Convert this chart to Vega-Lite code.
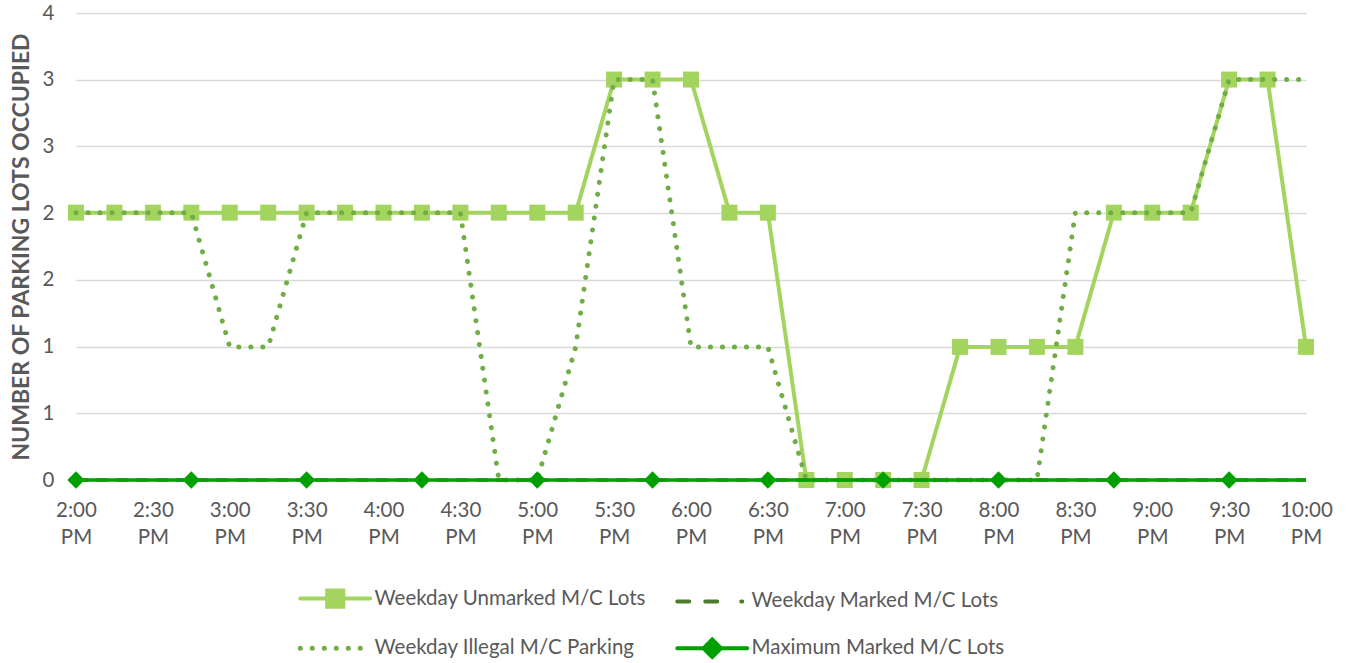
{
  "$schema": "https://vega.github.io/schema/vega-lite/v6.json",
  "width": 1230,
  "height": 467,
  "autosize": {"type": "none"},
  "padding": {"left": 76, "top": 13, "right": 44, "bottom": 183},
  "background": "white",
  "config": {
    "view": {"stroke": null},
    "font": "Lato",
    "text": {"font": "Lato"}
  },
  "data": {
    "values": [
      {"time": "2:00 PM", "series": "Weekday Unmarked M/C Lots", "value": 2.29},
      {"time": "2:15 PM", "series": "Weekday Unmarked M/C Lots", "value": 2.29},
      {"time": "2:30 PM", "series": "Weekday Unmarked M/C Lots", "value": 2.29},
      {"time": "2:45 PM", "series": "Weekday Unmarked M/C Lots", "value": 2.29},
      {"time": "3:00 PM", "series": "Weekday Unmarked M/C Lots", "value": 2.29},
      {"time": "3:15 PM", "series": "Weekday Unmarked M/C Lots", "value": 2.29},
      {"time": "3:30 PM", "series": "Weekday Unmarked M/C Lots", "value": 2.29},
      {"time": "3:45 PM", "series": "Weekday Unmarked M/C Lots", "value": 2.29},
      {"time": "4:00 PM", "series": "Weekday Unmarked M/C Lots", "value": 2.29},
      {"time": "4:15 PM", "series": "Weekday Unmarked M/C Lots", "value": 2.29},
      {"time": "4:30 PM", "series": "Weekday Unmarked M/C Lots", "value": 2.29},
      {"time": "4:45 PM", "series": "Weekday Unmarked M/C Lots", "value": 2.29},
      {"time": "5:00 PM", "series": "Weekday Unmarked M/C Lots", "value": 2.29},
      {"time": "5:15 PM", "series": "Weekday Unmarked M/C Lots", "value": 2.29},
      {"time": "5:30 PM", "series": "Weekday Unmarked M/C Lots", "value": 3.43},
      {"time": "5:45 PM", "series": "Weekday Unmarked M/C Lots", "value": 3.43},
      {"time": "6:00 PM", "series": "Weekday Unmarked M/C Lots", "value": 3.43},
      {"time": "6:15 PM", "series": "Weekday Unmarked M/C Lots", "value": 2.29},
      {"time": "6:30 PM", "series": "Weekday Unmarked M/C Lots", "value": 2.29},
      {"time": "6:45 PM", "series": "Weekday Unmarked M/C Lots", "value": 0},
      {"time": "7:00 PM", "series": "Weekday Unmarked M/C Lots", "value": 0},
      {"time": "7:15 PM", "series": "Weekday Unmarked M/C Lots", "value": 0},
      {"time": "7:30 PM", "series": "Weekday Unmarked M/C Lots", "value": 0},
      {"time": "7:45 PM", "series": "Weekday Unmarked M/C Lots", "value": 1.14},
      {"time": "8:00 PM", "series": "Weekday Unmarked M/C Lots", "value": 1.14},
      {"time": "8:15 PM", "series": "Weekday Unmarked M/C Lots", "value": 1.14},
      {"time": "8:30 PM", "series": "Weekday Unmarked M/C Lots", "value": 1.14},
      {"time": "8:45 PM", "series": "Weekday Unmarked M/C Lots", "value": 2.29},
      {"time": "9:00 PM", "series": "Weekday Unmarked M/C Lots", "value": 2.29},
      {"time": "9:15 PM", "series": "Weekday Unmarked M/C Lots", "value": 2.29},
      {"time": "9:30 PM", "series": "Weekday Unmarked M/C Lots", "value": 3.43},
      {"time": "9:45 PM", "series": "Weekday Unmarked M/C Lots", "value": 3.43},
      {"time": "10:00 PM", "series": "Weekday Unmarked M/C Lots", "value": 1.14},

      {"time": "2:00 PM", "series": "Weekday Marked M/C Lots", "value": 0},
      {"time": "2:15 PM", "series": "Weekday Marked M/C Lots", "value": 0},
      {"time": "2:30 PM", "series": "Weekday Marked M/C Lots", "value": 0},
      {"time": "2:45 PM", "series": "Weekday Marked M/C Lots", "value": 0},
      {"time": "3:00 PM", "series": "Weekday Marked M/C Lots", "value": 0},
      {"time": "3:15 PM", "series": "Weekday Marked M/C Lots", "value": 0},
      {"time": "3:30 PM", "series": "Weekday Marked M/C Lots", "value": 0},
      {"time": "3:45 PM", "series": "Weekday Marked M/C Lots", "value": 0},
      {"time": "4:00 PM", "series": "Weekday Marked M/C Lots", "value": 0},
      {"time": "4:15 PM", "series": "Weekday Marked M/C Lots", "value": 0},
      {"time": "4:30 PM", "series": "Weekday Marked M/C Lots", "value": 0},
      {"time": "4:45 PM", "series": "Weekday Marked M/C Lots", "value": 0},
      {"time": "5:00 PM", "series": "Weekday Marked M/C Lots", "value": 0},
      {"time": "5:15 PM", "series": "Weekday Marked M/C Lots", "value": 0},
      {"time": "5:30 PM", "series": "Weekday Marked M/C Lots", "value": 0},
      {"time": "5:45 PM", "series": "Weekday Marked M/C Lots", "value": 0},
      {"time": "6:00 PM", "series": "Weekday Marked M/C Lots", "value": 0},
      {"time": "6:15 PM", "series": "Weekday Marked M/C Lots", "value": 0},
      {"time": "6:30 PM", "series": "Weekday Marked M/C Lots", "value": 0},
      {"time": "6:45 PM", "series": "Weekday Marked M/C Lots", "value": 0},
      {"time": "7:00 PM", "series": "Weekday Marked M/C Lots", "value": 0},
      {"time": "7:15 PM", "series": "Weekday Marked M/C Lots", "value": 0},
      {"time": "7:30 PM", "series": "Weekday Marked M/C Lots", "value": 0},
      {"time": "7:45 PM", "series": "Weekday Marked M/C Lots", "value": 0},
      {"time": "8:00 PM", "series": "Weekday Marked M/C Lots", "value": 0},
      {"time": "8:15 PM", "series": "Weekday Marked M/C Lots", "value": 0},
      {"time": "8:30 PM", "series": "Weekday Marked M/C Lots", "value": 0},
      {"time": "8:45 PM", "series": "Weekday Marked M/C Lots", "value": 0},
      {"time": "9:00 PM", "series": "Weekday Marked M/C Lots", "value": 0},
      {"time": "9:15 PM", "series": "Weekday Marked M/C Lots", "value": 0},
      {"time": "9:30 PM", "series": "Weekday Marked M/C Lots", "value": 0},
      {"time": "9:45 PM", "series": "Weekday Marked M/C Lots", "value": 0},
      {"time": "10:00 PM", "series": "Weekday Marked M/C Lots", "value": 0},

      {"time": "2:00 PM", "series": "Weekday Illegal M/C Parking", "value": 2.29},
      {"time": "2:15 PM", "series": "Weekday Illegal M/C Parking", "value": 2.29},
      {"time": "2:30 PM", "series": "Weekday Illegal M/C Parking", "value": 2.29},
      {"time": "2:45 PM", "series": "Weekday Illegal M/C Parking", "value": 2.29},
      {"time": "3:00 PM", "series": "Weekday Illegal M/C Parking", "value": 1.14},
      {"time": "3:15 PM", "series": "Weekday Illegal M/C Parking", "value": 1.14},
      {"time": "3:30 PM", "series": "Weekday Illegal M/C Parking", "value": 2.29},
      {"time": "3:45 PM", "series": "Weekday Illegal M/C Parking", "value": 2.29},
      {"time": "4:00 PM", "series": "Weekday Illegal M/C Parking", "value": 2.29},
      {"time": "4:15 PM", "series": "Weekday Illegal M/C Parking", "value": 2.29},
      {"time": "4:30 PM", "series": "Weekday Illegal M/C Parking", "value": 2.29},
      {"time": "4:45 PM", "series": "Weekday Illegal M/C Parking", "value": 0},
      {"time": "5:00 PM", "series": "Weekday Illegal M/C Parking", "value": 0},
      {"time": "5:15 PM", "series": "Weekday Illegal M/C Parking", "value": 1.14},
      {"time": "5:30 PM", "series": "Weekday Illegal M/C Parking", "value": 3.43},
      {"time": "5:45 PM", "series": "Weekday Illegal M/C Parking", "value": 3.43},
      {"time": "6:00 PM", "series": "Weekday Illegal M/C Parking", "value": 1.14},
      {"time": "6:15 PM", "series": "Weekday Illegal M/C Parking", "value": 1.14},
      {"time": "6:30 PM", "series": "Weekday Illegal M/C Parking", "value": 1.14},
      {"time": "6:45 PM", "series": "Weekday Illegal M/C Parking", "value": 0},
      {"time": "7:00 PM", "series": "Weekday Illegal M/C Parking", "value": 0},
      {"time": "7:15 PM", "series": "Weekday Illegal M/C Parking", "value": 0},
      {"time": "7:30 PM", "series": "Weekday Illegal M/C Parking", "value": 0},
      {"time": "7:45 PM", "series": "Weekday Illegal M/C Parking", "value": 0},
      {"time": "8:00 PM", "series": "Weekday Illegal M/C Parking", "value": 0},
      {"time": "8:15 PM", "series": "Weekday Illegal M/C Parking", "value": 0},
      {"time": "8:30 PM", "series": "Weekday Illegal M/C Parking", "value": 2.29},
      {"time": "8:45 PM", "series": "Weekday Illegal M/C Parking", "value": 2.29},
      {"time": "9:00 PM", "series": "Weekday Illegal M/C Parking", "value": 2.29},
      {"time": "9:15 PM", "series": "Weekday Illegal M/C Parking", "value": 2.29},
      {"time": "9:30 PM", "series": "Weekday Illegal M/C Parking", "value": 3.43},
      {"time": "9:45 PM", "series": "Weekday Illegal M/C Parking", "value": 3.43},
      {"time": "10:00 PM", "series": "Weekday Illegal M/C Parking", "value": 3.43},

      {"time": "2:00 PM", "series": "Maximum Marked M/C Lots", "value": 0},
      {"time": "2:15 PM", "series": "Maximum Marked M/C Lots", "value": 0},
      {"time": "2:30 PM", "series": "Maximum Marked M/C Lots", "value": 0},
      {"time": "2:45 PM", "series": "Maximum Marked M/C Lots", "value": 0},
      {"time": "3:00 PM", "series": "Maximum Marked M/C Lots", "value": 0},
      {"time": "3:15 PM", "series": "Maximum Marked M/C Lots", "value": 0},
      {"time": "3:30 PM", "series": "Maximum Marked M/C Lots", "value": 0},
      {"time": "3:45 PM", "series": "Maximum Marked M/C Lots", "value": 0},
      {"time": "4:00 PM", "series": "Maximum Marked M/C Lots", "value": 0},
      {"time": "4:15 PM", "series": "Maximum Marked M/C Lots", "value": 0},
      {"time": "4:30 PM", "series": "Maximum Marked M/C Lots", "value": 0},
      {"time": "4:45 PM", "series": "Maximum Marked M/C Lots", "value": 0},
      {"time": "5:00 PM", "series": "Maximum Marked M/C Lots", "value": 0},
      {"time": "5:15 PM", "series": "Maximum Marked M/C Lots", "value": 0},
      {"time": "5:30 PM", "series": "Maximum Marked M/C Lots", "value": 0},
      {"time": "5:45 PM", "series": "Maximum Marked M/C Lots", "value": 0},
      {"time": "6:00 PM", "series": "Maximum Marked M/C Lots", "value": 0},
      {"time": "6:15 PM", "series": "Maximum Marked M/C Lots", "value": 0},
      {"time": "6:30 PM", "series": "Maximum Marked M/C Lots", "value": 0},
      {"time": "6:45 PM", "series": "Maximum Marked M/C Lots", "value": 0},
      {"time": "7:00 PM", "series": "Maximum Marked M/C Lots", "value": 0},
      {"time": "7:15 PM", "series": "Maximum Marked M/C Lots", "value": 0},
      {"time": "7:30 PM", "series": "Maximum Marked M/C Lots", "value": 0},
      {"time": "7:45 PM", "series": "Maximum Marked M/C Lots", "value": 0},
      {"time": "8:00 PM", "series": "Maximum Marked M/C Lots", "value": 0},
      {"time": "8:15 PM", "series": "Maximum Marked M/C Lots", "value": 0},
      {"time": "8:30 PM", "series": "Maximum Marked M/C Lots", "value": 0},
      {"time": "8:45 PM", "series": "Maximum Marked M/C Lots", "value": 0},
      {"time": "9:00 PM", "series": "Maximum Marked M/C Lots", "value": 0},
      {"time": "9:15 PM", "series": "Maximum Marked M/C Lots", "value": 0},
      {"time": "9:30 PM", "series": "Maximum Marked M/C Lots", "value": 0},
      {"time": "9:45 PM", "series": "Maximum Marked M/C Lots", "value": 0},
      {"time": "10:00 PM", "series": "Maximum Marked M/C Lots", "value": 0}
    ]
  },
  "encoding": {
    "x": {
      "field": "time",
      "type": "ordinal",
      "sort": null,
      "scale": {"type": "point", "padding": 0},
      "axis": {
        "title": null,
        "values": ["2:00 PM", "2:30 PM", "3:00 PM", "3:30 PM", "4:00 PM", "4:30 PM", "5:00 PM", "5:30 PM", "6:00 PM", "6:30 PM", "7:00 PM", "7:30 PM", "8:00 PM", "8:30 PM", "9:00 PM", "9:30 PM", "10:00 PM"],
        "labelExpr": "split(datum.label, ' ')",
        "labelAngle": 0,
        "labelFont": "Lato",
        "labelFontSize": 20.5,
        "labelColor": "#595959",
        "labelLineHeight": 27,
        "labelPadding": 20,
        "labelBaseline": "top",
        "labelOverlap": false,
        "domain": true,
        "domainColor": "#D9D9D9",
        "ticks": false,
        "grid": false
      }
    },
    "y": {
      "field": "value",
      "type": "quantitative",
      "scale": {"domain": [0, 4], "nice": false, "zero": true},
      "axis": {
        "title": "NUMBER OF PARKING LOTS OCCUPIED",
        "titleFont": "Lato",
        "titleFontSize": 23,
        "titleFontWeight": "bold",
        "titleColor": "#595959",
        "titlePadding": 9,
        "values": [0, 0.5714, 1.1429, 1.7143, 2.2857, 2.8571, 3.4286, 4],
        "format": ".0f",
        "labelFont": "Lato",
        "labelFontSize": 20.5,
        "labelColor": "#595959",
        "labelPadding": 22,
        "domain": false,
        "ticks": false,
        "grid": true,
        "gridColor": "#D9D9D9",
        "gridWidth": 1.5
      }
    },
    "color": {
      "field": "series",
      "type": "nominal",
      "scale": {
        "domain": ["Weekday Unmarked M/C Lots", "Weekday Marked M/C Lots", "Weekday Illegal M/C Parking", "Maximum Marked M/C Lots"],
        "range": ["#A2D45E", "#4E7A2C", "#70AD47", "#00A000"]
      },
      "legend": {
        "title": null,
        "orient": "none",
        "legendX": 224,
        "legendY": 575,
        "direction": "horizontal",
        "columns": 2,
        "columnPadding": 23,
        "rowPadding": 16,
        "labelFont": "Lato",
        "labelFontSize": 20.5,
        "labelColor": "#595959",
        "labelLimit": 0,
        "labelOffset": 29,
        "symbolOffset": 25,
        "encoding": {
          "symbols": {
            "shape": {"value": {"expr": "datum.value == 'Weekday Unmarked M/C Lots' ? 'M-1,0H1M-0.23,-0.23H0.23V0.23H-0.23Z' : datum.value == 'Maximum Marked M/C Lots' ? 'M-1,0H1M-0.25,0L0,-0.25L0.25,0L0,0.25Z' : 'M-1,0H1'"}},
            "size": {"value": 4900},
            "fill": {"value": {"expr": "scale('color', datum.value)"}},
            "stroke": {"value": {"expr": "scale('color', datum.value)"}},
            "strokeWidth": {"value": {"expr": "datum.value == 'Weekday Illegal M/C Parking' ? 5 : 4"}},
            "strokeDash": {"value": {"expr": "datum.value == 'Weekday Marked M/C Lots' ? [12,16,12,24,1,100] : datum.value == 'Weekday Illegal M/C Parking' ? [0.1,11.9] : [1,0]"}},
            "strokeCap": {"value": "round"},
            "opacity": {"value": 1}
          }
        }
      }
    }
  },
  "layer": [
    {
      "transform": [{"filter": "datum.series == 'Weekday Unmarked M/C Lots'"}],
      "mark": {"type": "line", "strokeWidth": 4, "strokeJoin": "round"}
    },
    {
      "transform": [{"filter": "datum.series == 'Weekday Unmarked M/C Lots'"}],
      "mark": {"type": "point", "shape": "square", "filled": true, "size": 256, "opacity": 1}
    },
    {
      "transform": [{"filter": "datum.series == 'Weekday Marked M/C Lots'"}],
      "mark": {"type": "line", "strokeWidth": 3.5, "strokeDash": [12, 8]}
    },
    {
      "transform": [{"filter": "datum.series == 'Weekday Illegal M/C Parking'"}],
      "mark": {"type": "line", "strokeWidth": 5, "strokeDash": [0.1, 11.9], "strokeCap": "round"}
    },
    {
      "transform": [{"filter": "datum.series == 'Maximum Marked M/C Lots'"}],
      "mark": {"type": "line", "strokeWidth": 3.5}
    },
    {
      "transform": [
        {"filter": "datum.series == 'Maximum Marked M/C Lots'"},
        {"filter": {"field": "time", "oneOf": ["2:00 PM", "2:45 PM", "3:30 PM", "4:15 PM", "5:00 PM", "5:45 PM", "6:30 PM", "7:15 PM", "8:00 PM", "8:45 PM", "9:30 PM"]}}
      ],
      "mark": {"type": "point", "shape": "diamond", "filled": true, "size": 300, "opacity": 1}
    }
  ]
}
